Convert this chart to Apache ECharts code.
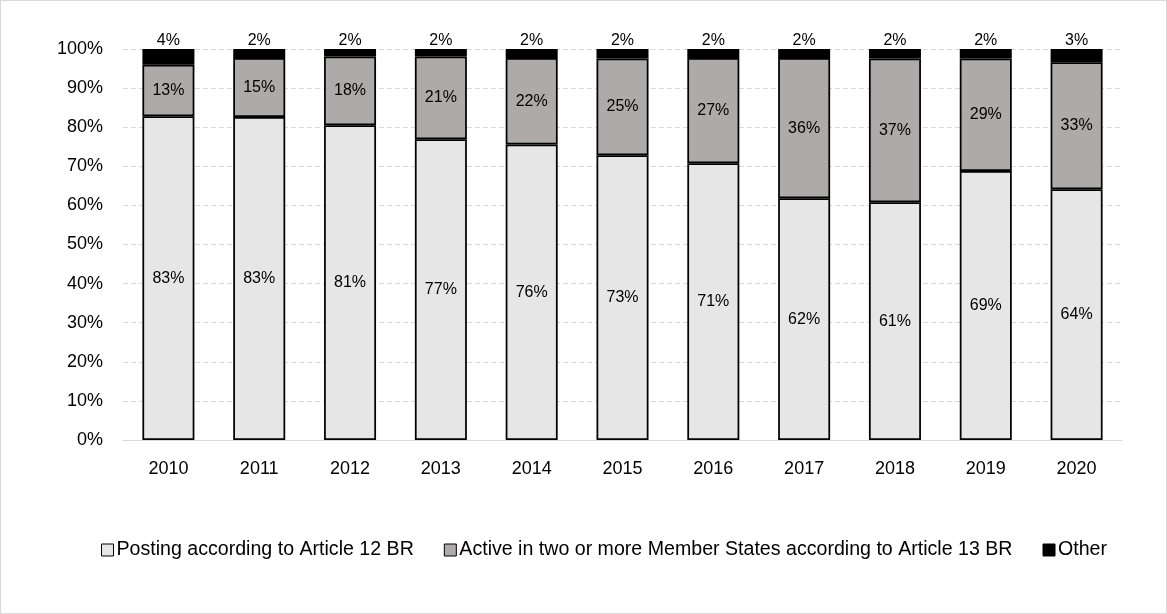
<!DOCTYPE html>
<html><head><meta charset="utf-8">
<script src="https://cdn.jsdelivr.net/npm/echarts@6/dist/echarts.min.js"></script>
<style>html,body{margin:0;padding:0;background:#fff}#c{width:1167px;height:614px;box-sizing:border-box;border:1px solid #d9d9d9}</style>
</head><body><div id="c"></div>
<script>
const years = ['2010','2011','2012','2013','2014','2015','2016','2017','2018','2019','2020'];
const posting = [82.8, 82.6, 80.5, 76.9, 75.6, 72.8, 70.8, 61.8, 60.8, 68.8, 64.1];
const active = [13.2, 15.1, 17.6, 21.2, 22.1, 24.8, 26.9, 35.9, 36.8, 28.8, 32.5];
const other = [4.0, 2.3, 1.9, 1.9, 2.3, 2.4, 2.3, 2.3, 2.4, 2.4, 3.4];
const names = ['Posting according to Article 12 BR','Active in two or more Member States according to Article 13 BR','Other'];
const font = 'Liberation Sans';
const fmt = p => Math.round(p.value) + '%';
const chart = echarts.init(document.getElementById('c'));
const seg = (name, data, color, pos, dist) => ({
  name, type:'bar', stack:'t', data, barWidth:52,
  itemStyle:{color, borderColor:'#000', borderWidth:1.75},
  label:{show:true, position:pos, formatter:fmt, color:'#000', fontFamily:font, fontSize:16, distance:dist},
  emphasis:{disabled:true}
});
chart.setOption({
  animation:false,
  textStyle:{fontFamily:font},
  grid:{left:122, right:44, top:48, bottom:173, containLabel:false},
  legend:{top:534, left:95, itemWidth:12, itemHeight:12, itemGap:30, icon:'rect',
    textStyle:{fontFamily:font, fontSize:19.6, color:'#000', padding:[0,0,0,-2]},
    itemStyle:{borderColor:'#000', borderWidth:1}},
  xAxis:{type:'category', data:years, axisTick:{show:false},
    axisLine:{lineStyle:{color:'#d9d9d9', width:1}},
    axisLabel:{fontFamily:font, fontSize:18, color:'#000', margin:20}},
  yAxis:{type:'value', min:0, max:100, interval:10,
    axisLabel:{formatter:'{value}%', fontFamily:font, fontSize:18, color:'#000', margin:20},
    splitLine:{lineStyle:{color:'#d9d9d9', type:[5,3]}}},
  series:[
    seg(names[0], posting, '#e7e6e6', 'inside', 5),
    seg(names[1], active, '#aeaaaa', 'inside', 5),
    seg(names[2], other, '#000000', 'top', 0)
  ]
});
</script></body></html>
